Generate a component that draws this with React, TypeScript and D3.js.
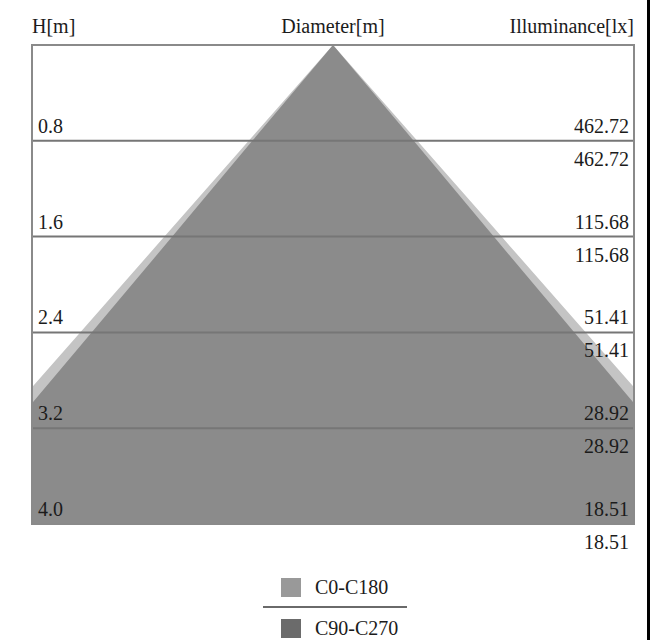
import { area, scaleLinear } from "d3";

// isolux cone: mounting height vs lit diameter and illuminance
const heights = [0.8, 1.6, 2.4, 3.2, 4.0];
const illuminance = ["462.72", "115.68", "51.41", "28.92", "18.51"];
const heightLabels = ["0.8", "1.6", "2.4", "3.2", "4.0"];
const coneHeights = [0, 0.8, 1.6, 2.4, 3.2, 4.0];
const diameterC0 = [0, 1.4, 2.8, 4.2, 5.6, 7.0];
const diameterC90 = [0, 1.34, 2.67, 4.01, 5.35, 6.68];
const seriesNames = ["C0-C180", "C90-C270"];

const width = 665;
const height = 640;
const box = { left: 32, right: 634, top: 45, bottom: 524 };
const font = "'Liberation Serif', 'Times New Roman', serif";
const ink = "#1b1b1b";

type ConePoint = { h: number; d: number };

export default function App() {
  const yScale = scaleLinear().domain([0, 4]).range([box.top, box.bottom]);
  const xScale = scaleLinear().domain([-2.5, 2.5]).range([box.left, box.right]);

  const cone = area<ConePoint>()
    .y((p) => yScale(p.h))
    .x0((p) => xScale(-p.d / 2))
    .x1((p) => xScale(p.d / 2));

  const c0 = coneHeights.map((h, i) => ({ h, d: diameterC0[i] }));
  const c90 = coneHeights.map((h, i) => ({ h, d: diameterC90[i] }));

  const legendX = 281;

  return (
    <svg
      width={width}
      height={height}
      viewBox={`0 0 ${width} ${height}`}
      style={{ position: "absolute", left: 0, top: 0, background: "#fff" }}
    >
      <defs>
        <clipPath id="box-clip">
          <rect x={box.left} y={box.top} width={box.right - box.left} height={box.bottom - box.top} />
        </clipPath>
      </defs>

      <g fontFamily={font} fontSize={20} fill={ink}>
        <text x={box.left} y={33}>H[m]</text>
        <text x={(box.left + box.right) / 2} y={33} textAnchor="middle">Diameter[m]</text>
        <text x={box.right} y={33} textAnchor="end">Illuminance[lx]</text>
      </g>

      <g clipPath="url(#box-clip)">
        <path d={cone(c0) ?? ""} fill="#c4c4c4" />
        <path d={cone(c90) ?? ""} fill="#8b8b8b" />
      </g>

      {heights.slice(0, -1).map((h) => (
        <line
          key={h}
          x1={box.left}
          x2={box.right}
          y1={yScale(h)}
          y2={yScale(h)}
          stroke="#767676"
          strokeWidth={2}
        />
      ))}
      <rect
        x={box.left}
        y={box.top}
        width={box.right - box.left}
        height={box.bottom - box.top}
        fill="none"
        stroke="#8a8a8a"
        strokeWidth={2}
      />

      <g fontFamily={font} fontSize={20} fill={ink}>
        {heights.map((h, i) => {
          const y = yScale(h);
          return (
            <g key={h}>
              <text x={box.left + 6} y={y - 8}>{heightLabels[i]}</text>
              <text x={box.right - 5} y={y - 8} textAnchor="end">{illuminance[i]}</text>
              <text x={box.right - 5} y={y + 25} textAnchor="end">{illuminance[i]}</text>
            </g>
          );
        })}
      </g>

      <g fontFamily={font} fontSize={20} fill={ink}>
        <rect x={legendX} y={578} width={20} height={19} fill="#999999" />
        <text x={legendX + 34} y={594}>{seriesNames[0]}</text>
        <line x1={263} x2={407} y1={607} y2={607} stroke="#6a6a6a" strokeWidth={2} />
        <rect x={legendX} y={619} width={20} height={19} fill="#6b6b6b" />
        <text x={legendX + 34} y={635}>{seriesNames[1]}</text>
      </g>

      <rect x={647} y={0} width={3} height={height} fill="#000" />
    </svg>
  );
}
